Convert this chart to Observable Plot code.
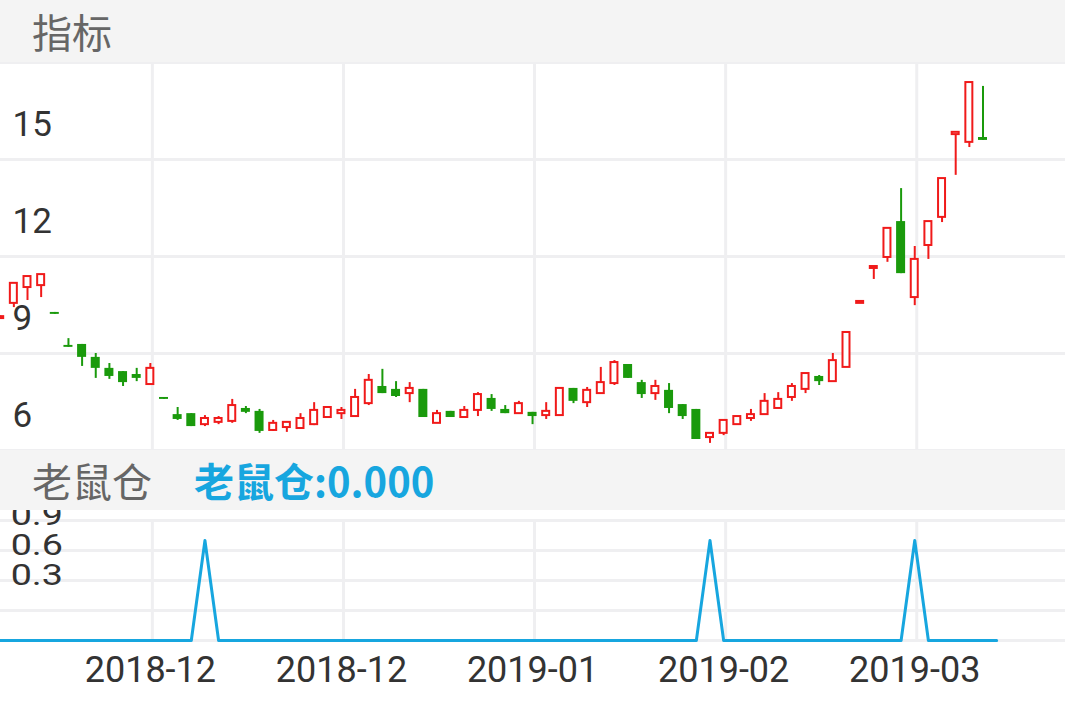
<!DOCTYPE html>
<html><head><meta charset="utf-8">
<script src="https://cdn.jsdelivr.net/npm/d3@7"></script>
<script src="https://cdn.jsdelivr.net/npm/@observablehq/plot@0.6"></script>
<style>
html,body{margin:0;padding:0;background:#fff;width:1065px;height:708px;overflow:hidden;font-family:Roboto,"Noto Sans CJK SC",sans-serif;}
.hdr{background:#f4f4f4;display:flex;align-items:center;padding-left:32px;font-size:40px;color:#666;box-sizing:border-box;font-family:"Noto Sans CJK SC",sans-serif;}
.blue{color:#17a6df;font-weight:bold;margin-left:42px;}
svg{display:block;}
#sub svg{overflow:hidden;}
</style></head>
<body>
<div class="hdr" style="height:62px">指标</div>
<div id="main"></div>
<div class="hdr" style="height:60px"><span>老鼠仓</span><span class="blue">老鼠仓:0.000</span></div>
<div id="sub"></div>
<script>
const dates = [
"2018-11-19","2018-11-20","2018-11-21","2018-11-22","2018-11-23","2018-11-26","2018-11-27","2018-11-28","2018-11-29","2018-11-30",
"2018-12-03","2018-12-04","2018-12-05","2018-12-06","2018-12-07","2018-12-10","2018-12-11","2018-12-12","2018-12-13","2018-12-14",
"2018-12-17","2018-12-18","2018-12-19","2018-12-20","2018-12-21","2018-12-24","2018-12-25","2018-12-26","2018-12-27","2018-12-28",
"2019-01-02","2019-01-03","2019-01-04","2019-01-07","2019-01-08","2019-01-09","2019-01-10","2019-01-11","2019-01-14","2019-01-15",
"2019-01-16","2019-01-17","2019-01-18","2019-01-21","2019-01-22","2019-01-23","2019-01-24","2019-01-25","2019-01-28","2019-01-29",
"2019-01-30","2019-01-31","2019-02-01","2019-02-11","2019-02-12","2019-02-13","2019-02-14","2019-02-15","2019-02-18","2019-02-19",
"2019-02-20","2019-02-21","2019-02-22","2019-02-25","2019-02-26","2019-02-27","2019-02-28","2019-03-01","2019-03-04","2019-03-05",
"2019-03-06","2019-03-07","2019-03-08","2019-03-11"];

const open = [
10.08,10.55,11.04,11.10,10.27,9.25,9.28,8.88,8.54,8.44,
8.35,8.04,7.64,7.11,7.14,6.80,6.87,6.90,7.30,7.21,
6.62,6.71,6.68,6.80,7.02,7.14,7.05,7.45,7.98,7.89,
7.76,7.89,6.84,7.21,7.02,7.24,7.61,7.27,7.14,7.18,
7.08,7.08,7.92,7.48,7.76,8.07,8.66,8.10,7.76,7.86,
7.42,7.27,6.40,6.53,6.80,6.99,7.11,7.30,7.64,7.89,
8.29,8.13,8.57,10.55,11.63,11.97,13.08,10.73,12.34,13.21,
15.77,15.53,15.68];
const close = [
10.14,11.17,11.38,11.44,10.21,9.19,8.88,8.54,8.29,8.10,
8.23,8.54,7.58,6.96,6.74,6.99,6.99,7.39,7.18,6.59,
6.84,6.87,6.99,7.24,7.33,7.24,7.64,8.17,7.76,7.67,
7.92,7.02,7.14,7.02,7.24,7.73,7.27,7.14,7.45,7.05,
7.21,7.92,7.52,7.86,8.10,8.72,8.23,7.73,7.98,7.30,
7.05,6.34,6.53,6.93,7.05,7.11,7.52,7.58,7.98,8.38,
8.13,8.78,9.65,10.61,11.69,12.87,11.47,11.91,13.08,14.41,
15.84,17.38,15.59];
const high = [
10.16,11.17,11.38,11.44,10.27,9.46,9.28,9.00,8.69,8.44,
8.54,8.69,7.64,7.33,7.14,7.08,7.05,7.58,7.36,7.27,
6.93,6.87,7.14,7.48,7.33,7.33,7.89,8.35,8.51,8.13,
8.10,7.89,7.24,7.21,7.36,7.79,7.73,7.39,7.52,7.18,
7.48,7.92,7.92,7.95,8.57,8.78,8.66,8.17,8.17,8.07,
7.42,7.27,6.53,6.93,7.05,7.27,7.76,7.79,8.07,8.38,
8.32,9.00,9.65,10.61,11.69,12.87,14.10,12.31,13.08,14.41,
15.84,17.38,17.26];
const low = [
10.06,10.42,10.64,10.73,10.21,9.19,8.60,8.23,8.20,7.98,
8.13,8.04,7.58,6.93,6.74,6.74,6.80,6.84,7.14,6.53,
6.59,6.56,6.65,6.77,7.02,6.96,7.02,7.39,7.76,7.64,
7.48,7.02,6.84,7.02,7.02,7.05,7.21,7.14,7.14,6.80,
6.96,7.08,7.45,7.33,7.76,8.01,8.23,7.61,7.55,7.14,
6.96,6.34,6.22,6.46,6.80,6.90,7.11,7.30,7.52,7.76,
8.01,8.13,8.57,10.55,11.29,11.82,11.47,10.48,11.91,13.05,
14.51,15.37,15.59];
// 老鼠仓 indicator
const rat = [
0,0,0,0,0,0,0,0,0,0,
0,0,0,0,0,1,0,0,0,0,
0,0,0,0,0,0,0,0,0,0,
0,0,0,0,0,0,0,0,0,0,
0,0,0,0,0,0,0,0,0,0,
0,0,1,0,0,0,0,0,0,0,
0,0,0,0,0,0,0,1,0,0,
0,0,0,0];

const xTickIdx = [11,25,39,53,67];
const xTickLabels = xTickIdx.map(i => dates[i].slice(0,7));
const priceGrid = [6,9,12,15,18];
const priceLabels = [6,9,12,15];
const subGrid = [0,0.3,0.6,0.9,1.2];
const subLabels = ["0.3","0.6","0.9"];

const RED = "#f01a1a", GREEN = "#1a9a0c", GRID = "#efeff1", BLUE = "#17a6df";
const xDomain = [0.022, 78.044];

const candles = open.map((o,i)=>({i, date:dates[i], o, c:close[i], h:high[i], l:low[i]}));
const up = candles.filter(d=>d.c>=d.o);
const down = candles.filter(d=>d.c<d.o);

const main = Plot.plot({
  width:1065, height:388, margin:0,
  x:{domain:xDomain, axis:null},
  y:{domain:[6,18], axis:null},
  marks:[
    Plot.ruleY(priceGrid, {stroke:GRID, strokeWidth:3}),
    Plot.ruleX(xTickIdx, {stroke:GRID, strokeWidth:3, dx:2}),
    Plot.text(priceLabels, {y:d=>d, text:d=>String(d), frameAnchor:"left", textAnchor:"start", dx:12, dy:-35, fontSize:35, fill:"#333", fontFamily:"Roboto"}),
    Plot.ruleX(down, {x:"i", y1:"l", y2:"h", stroke:GREEN, strokeWidth:2}),
    Plot.ruleX(up, {x:"i", y1:"l", y2:"h", stroke:RED, strokeWidth:2}),
    Plot.rect(down, {x1:d=>d.i-0.33, x2:d=>d.i+0.33, y1:"o", y2:"c", fill:GREEN}),
    Plot.rect(up, {x1:d=>d.i-0.256, x2:d=>d.i+0.256, y1:"o", y2:"c", fill:"white", stroke:RED, strokeWidth:2})
  ]
});
document.getElementById("main").appendChild(main);

const sub = Plot.plot({
  width:1065, height:198, marginLeft:0, marginRight:0, marginTop:10, marginBottom:68,
  x:{domain:xDomain, axis:null},
  y:{domain:[0,1.2], axis:null},
  marks:[
    Plot.ruleY(subGrid, {stroke:GRID, strokeWidth:3}),
    Plot.ruleX(xTickIdx, {y1:0, y2:1.2, stroke:GRID, strokeWidth:3, dx:2}),
    Plot.text(subLabels, {y:d=>+d, text:d=>d, frameAnchor:"left", textAnchor:"start", lineAnchor:"middle", dx:10, dy:-35, fontSize:29, fill:"#333", fontFamily:"Roboto"}),
    Plot.lineY(rat, {x:(d,i)=>i, y:d=>d, stroke:BLUE, strokeWidth:3}),
    Plot.text(xTickIdx, {x:d=>d, text:(d,i)=>xTickLabels[i], frameAnchor:"bottom", lineAnchor:"middle", dy:30, fontSize:36, fill:"#333", fontFamily:"Roboto"})
  ]
});
document.getElementById("sub").appendChild(sub);
// stretch the small indicator labels horizontally, as in the reference
const tg = sub.querySelectorAll('g[aria-label="text"]')[0];
if (tg) {
  const t0 = tg.getAttribute("transform") || "";
  tg.setAttribute("transform", "translate(10,0) scale(1.3,1) translate(-10,0) " + t0);
}
</script>
</body></html>
